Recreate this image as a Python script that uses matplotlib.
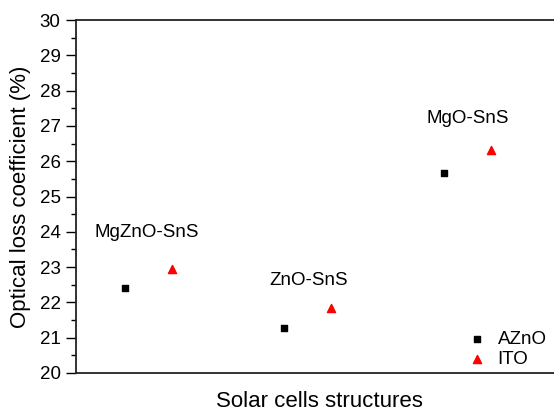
import numpy as np
import matplotlib.pyplot as plt
from matplotlib.ticker import MultipleLocator

plt.rcParams['font.family'] = ['Liberation Sans', 'DejaVu Sans']

structures = ["MgZnO-SnS", "ZnO-SnS", "MgO-SnS"]
azno = [22.41, 21.28, 25.67]
ito = [22.95, 21.84, 26.32]


def main():
    fig = plt.figure(figsize=(5.54, 4.12), dpi=100)
    ax = fig.add_axes([0.137, 0.095, 0.88, 0.856])

    x = np.arange(1, len(structures) + 1)
    ax.scatter(x, azno, marker='s', s=24, c='black', label='AZnO', zorder=3)
    ax.scatter(x + 0.294, ito, marker='^', s=34, c='red', label='ITO', zorder=3)

    label_y = [23.97, 22.63, 27.22]
    label_dx = [0.14, 0.155, 0.15]
    for xi, name, ly, dx in zip(x, structures, label_y, label_dx):
        ax.text(xi + dx, ly, name, ha='center', va='center', fontsize=13.5)

    ax.set_xlim(0.694, 3.75)
    ax.set_ylim(20, 30)
    ax.set_xticks([])
    ax.yaxis.set_major_locator(MultipleLocator(1))
    ax.yaxis.set_minor_locator(MultipleLocator(0.5))
    ax.tick_params(axis='y', which='major', length=7, width=1, labelsize=13.5,
                   direction='out', pad=4)
    ax.tick_params(axis='y', which='minor', length=3.5, width=1, direction='out')
    ax.spines['right'].set_visible(False)
    for s in ('left', 'top', 'bottom'):
        ax.spines[s].set_linewidth(1.3)
        ax.spines[s].set_color('#222222')

    ax.set_ylabel('Optical loss coefficient (%)', fontsize=16, labelpad=6)
    ax.set_xlabel('Solar cells structures', fontsize=16, labelpad=13)

    ax.legend(loc='lower right', bbox_to_anchor=(1.0, -0.035), frameon=False,
              fontsize=13.5, handletextpad=0.5, labelspacing=0.15,
              handlelength=1.2)

    fig.savefig('out.png', dpi=100)


if __name__ == '__main__':
    main()
